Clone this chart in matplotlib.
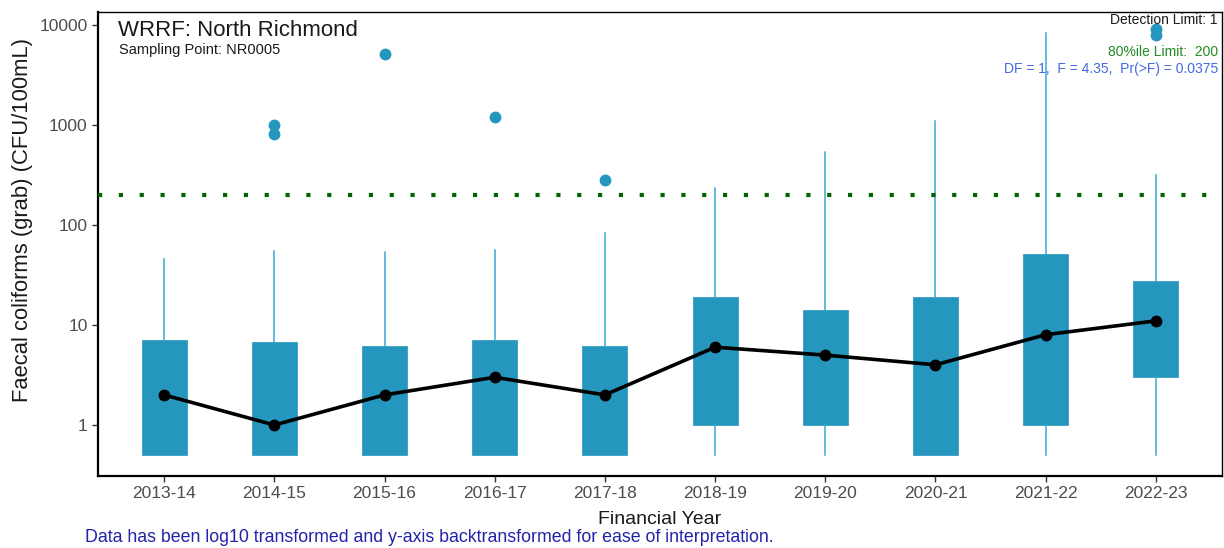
import matplotlib
matplotlib.use("Agg")
import matplotlib.pyplot as plt
from matplotlib.ticker import FixedLocator, NullLocator

plt.rcParams['font.family'] = ['Liberation Sans', 'DejaVu Sans']

# values (CFU/100mL)
years = ['2013-14', '2014-15', '2015-16', '2016-17', '2017-18',
         '2018-19', '2019-20', '2020-21', '2021-22', '2022-23']
q1 = [0.5, 0.5, 0.5, 0.5, 0.5, 1, 1, 0.5, 1, 3]
q3 = [7.1, 6.8, 6.2, 7.1, 6.2, 19, 14, 19, 51, 27.5]
whis_lo = [0.5, 0.5, 0.5, 0.5, 0.5, 0.5, 0.5, 0.5, 0.5, 0.5]
whis_hi = [46, 55, 54, 56, 83, 234, 537, 1100, 8300, 316]
medians = [2, 1, 2, 3, 2, 6, 5, 4, 8, 11]
outliers = [[], [1000, 810], [5100], [1200], [280], [], [], [], [], [9100, 7900]]

box_col = '#2596be'
whisk_col = '#3aa8d4'

fig = plt.figure(figsize=(12.24, 5.48), dpi=100)
ax = fig.add_axes([98 / 1224, 1 - 476 / 548, 1124 / 1224, 464 / 548])

pos = list(range(1, len(years) + 1))
stats = []
for i in range(len(years)):
    stats.append({'med': medians[i], 'q1': q1[i], 'q3': q3[i],
                  'whislo': whis_lo[i], 'whishi': whis_hi[i],
                  'fliers': outliers[i], 'label': years[i]})

ax.bxp(stats, positions=pos, widths=0.41, patch_artist=True, showcaps=False,
       boxprops=dict(facecolor=box_col, edgecolor=box_col, linewidth=0.5),
       whiskerprops=dict(color=whisk_col, linewidth=1.1),
       medianprops=dict(color=box_col, linewidth=0),
       flierprops=dict(marker='o', markerfacecolor=box_col, markeredgecolor=box_col,
                       markersize=7.5))

# 80%ile limit
ax.axhline(200, color='#006400', lw=3, linestyle=(0, (1, 4)), zorder=3)

# median trend line
ax.plot(pos, medians, color='black', lw=2.6, marker='o', markersize=7.5, zorder=5)

ax.set_yscale('log')
ax.set_ylim(10 ** -0.51, 10 ** 4.13)
ax.set_xlim(0.4, 10.6)
ax.yaxis.set_major_locator(FixedLocator([1, 10, 100, 1000, 10000]))
ax.yaxis.set_minor_locator(NullLocator())
ax.set_yticklabels(['1', '10', '100', '1000', '10000'])
ax.set_xticks(pos)
ax.set_xticklabels(years)
ax.tick_params(axis='both', labelsize=12.5, labelcolor='#4d4d4d', color='#333333',
               length=4, width=1)

for s in ['left', 'bottom']:
    ax.spines[s].set_linewidth(1.6)
for s in ['top', 'right']:
    ax.spines[s].set_linewidth(1.0)

ax.set_ylabel('Faecal coliforms (grab) (CFU/100mL)', fontsize=15.8, color='#1a1a1a')
ax.yaxis.set_label_coords(-0.058, 0.552)
ax.set_xlabel('Financial Year', fontsize=14, color='#1a1a1a', labelpad=7)

ax.text(0.018, 0.96, 'WRRF: North Richmond', transform=ax.transAxes,
        fontsize=16, va='center', ha='left', color='#1a1a1a')
ax.text(0.019, 0.918, 'Sampling Point: NR0005', transform=ax.transAxes,
        fontsize=10.5, va='center', ha='left', color='#1a1a1a')

ax.text(0.9964, 0.983, 'Detection Limit: 1', transform=ax.transAxes,
        fontsize=10, va='center', ha='right', color='#1a1a1a')
ax.text(0.9964, 0.913, '80%ile Limit:  200', transform=ax.transAxes,
        fontsize=10, va='center', ha='right', color='#228b22')
ax.text(0.9964, 0.877, 'DF = 1,  F = 4.35,  Pr(>F) = 0.0375', transform=ax.transAxes,
        fontsize=10, va='center', ha='right', color='#4169e1')

fig.text(85 / 1224, 1 - 537 / 548, 'Data has been log10 transformed and y-axis backtransformed for ease of interpretation.',
         fontsize=12.8, color='#2222aa', va='center', ha='left')

fig.savefig('out.png', dpi=100)
